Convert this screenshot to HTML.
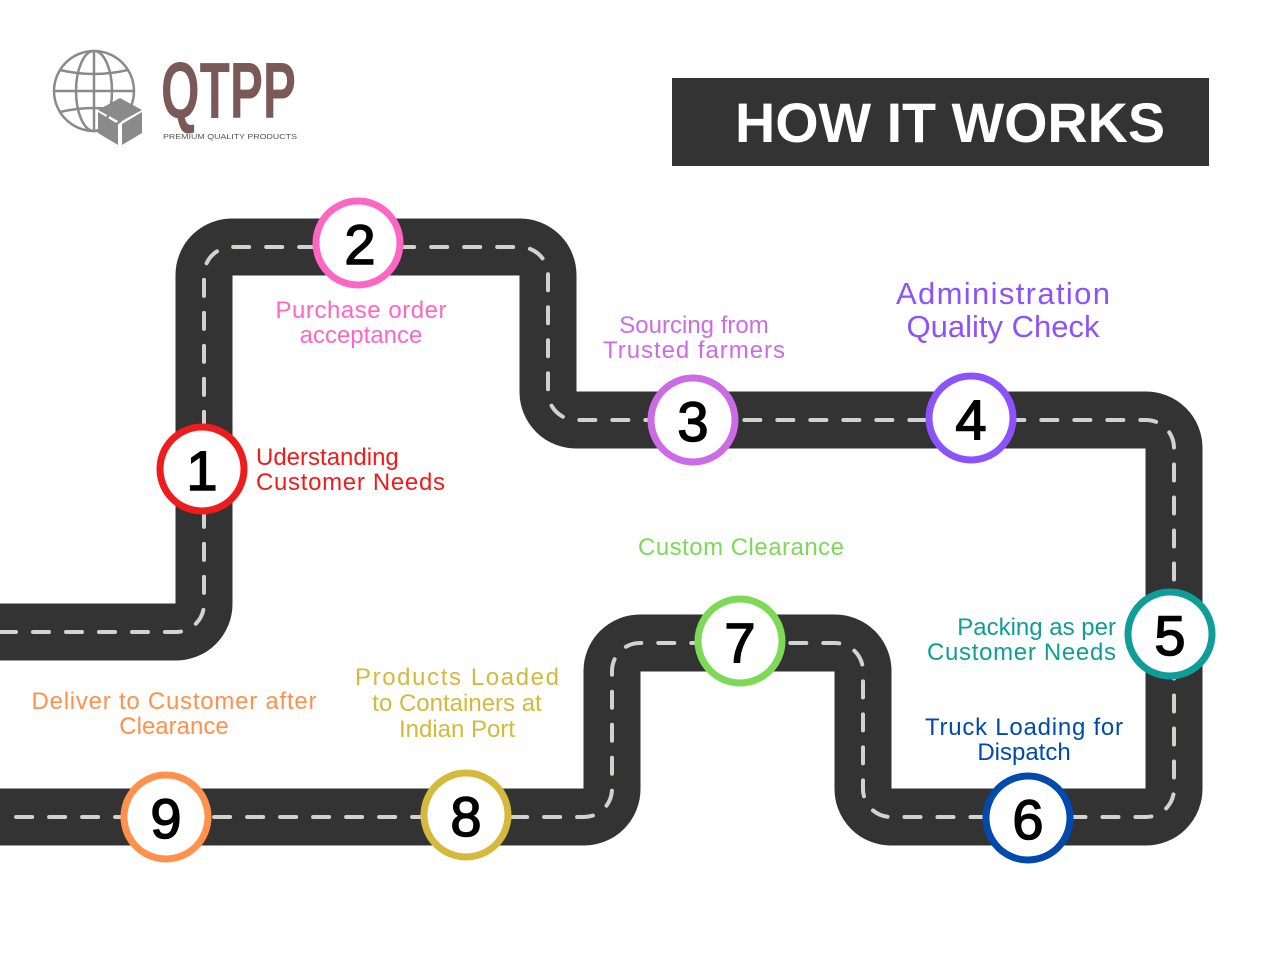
<!DOCTYPE html>
<html><head><meta charset="utf-8"><style>
body{margin:0;background:#fff;}
svg{display:block}
text{font-family:"Liberation Sans",sans-serif;}
</style></head><body>
<svg width="1280" height="960" viewBox="0 0 1280 960" xmlns="http://www.w3.org/2000/svg">
<rect width="1280" height="960" fill="#fff"/>
<g stroke="#8a8a8a" stroke-width="2.5" fill="none">
<circle cx="94" cy="91" r="40"/>
<ellipse cx="94" cy="91" rx="18" ry="40"/>
<line x1="94" y1="51" x2="94" y2="131"/>
<line x1="54" y1="91" x2="134" y2="91"/>
<path d="M60 70 Q94 78 128 70"/><path d="M60 112 Q94 104 128 112"/>
</g>
<polygon points="98,110 120,98 142,110 120,122" fill="#8a8a8a"/>
<polygon points="98,112 118,124 118,145 98,133" fill="#8a8a8a"/>
<polygon points="122,124 142,112 142,133 122,145" fill="#8a8a8a"/>
<text x="161" y="118" font-size="80" font-weight="bold" fill="#7a5a58" textLength="135" lengthAdjust="spacingAndGlyphs">QTPP</text>
<text x="163" y="139" font-size="7" fill="#555" textLength="134" lengthAdjust="spacingAndGlyphs">PREMIUM QUALITY PRODUCTS</text>
<rect x="672" y="78" width="537" height="88" fill="#333"/>
<text x="950" y="142" font-size="56" font-weight="bold" fill="#fff" text-anchor="middle" textLength="430" lengthAdjust="spacingAndGlyphs">HOW IT WORKS</text>
<path d="M0,632 H176 A28,28 0 0 0 204,604 V275 A28,28 0 0 1 232,247 H520 A28,28 0 0 1 548,275 V392 A28,28 0 0 0 576,420 H1146 A28,28 0 0 1 1174,448 V789 A28,28 0 0 1 1146,817 H891 A28,28 0 0 1 863,789 V671 A28,28 0 0 0 835,643 H640 A28,28 0 0 0 612,671 V789 A28,28 0 0 1 584,817 H0" fill="none" stroke="#333" stroke-width="57"/>
<path d="M0,632 H176 A28,28 0 0 0 204,604 V275 A28,28 0 0 1 232,247 H520 A28,28 0 0 1 548,275 V392 A28,28 0 0 0 576,420 H1146 A28,28 0 0 1 1174,448 V789 A28,28 0 0 1 1146,817 H891 A28,28 0 0 1 863,789 V671 A28,28 0 0 0 835,643 H640 A28,28 0 0 0 612,671 V789 A28,28 0 0 1 584,817 H0" fill="none" stroke="#d0d4cc" stroke-width="4" stroke-dasharray="16 17" stroke-linecap="round"/>
<g stroke-width="7" fill="#fff">
<circle cx="202" cy="469" r="42" stroke="#ee1c1c"/>
<circle cx="358" cy="243" r="42" stroke="#ff66c4"/>
<circle cx="693" cy="420" r="42" stroke="#cb6ce6"/>
<circle cx="971" cy="418" r="42" stroke="#8c52ff"/>
<circle cx="1170" cy="634" r="42" stroke="#0f9d9a"/>
<circle cx="1028" cy="818" r="42" stroke="#004aad"/>
<circle cx="740" cy="641" r="42" stroke="#7ed957"/>
<circle cx="466" cy="815" r="42" stroke="#d4b93c"/>
<circle cx="166" cy="817" r="42" stroke="#ff914d"/>
</g>
<g font-size="56" fill="#000" text-anchor="middle" stroke="#000" stroke-width="1.5">
<text x="202" y="490">1</text><text x="360" y="264">2</text><text x="693" y="441">3</text>
<text x="971" y="439">4</text><text x="1170" y="655">5</text><text x="1028" y="839">6</text>
<text x="740" y="662">7</text><text x="466" y="836">8</text><text x="166" y="838">9</text>
</g>
<g font-size="24">
<text x="361" y="318" fill="#ff66c4" text-anchor="middle" textLength="171">Purchase order</text>
<text x="361" y="343" fill="#ff66c4" text-anchor="middle">acceptance</text>
<text x="256" y="465" fill="#ee1c1c">Uderstanding</text>
<text x="256" y="490" fill="#ee1c1c" textLength="189">Customer Needs</text>
<text x="694" y="333" fill="#cb6ce6" text-anchor="middle">Sourcing from</text>
<text x="694" y="358" fill="#cb6ce6" text-anchor="middle" textLength="182">Trusted farmers</text>
<text x="1003" y="304" fill="#8c52ff" text-anchor="middle" font-size="31" textLength="214">Administration</text>
<text x="1003" y="337" fill="#8c52ff" text-anchor="middle" font-size="31">Quality Check</text>
<text x="741" y="555" fill="#7ed957" text-anchor="middle" textLength="206">Custom Clearance</text>
<text x="1116" y="635" fill="#0f9d9a" text-anchor="end">Packing as per</text>
<text x="1116" y="660" fill="#0f9d9a" text-anchor="end" textLength="189">Customer Needs</text>
<text x="1024" y="735" fill="#004aad" text-anchor="middle" textLength="198">Truck Loading for</text>
<text x="1024" y="760" fill="#004aad" text-anchor="middle">Dispatch</text>
<text x="457" y="685" fill="#d4b93c" text-anchor="middle" textLength="204">Products Loaded</text>
<text x="457" y="711" fill="#d4b93c" text-anchor="middle">to Containers at</text>
<text x="457" y="737" fill="#d4b93c" text-anchor="middle">Indian Port</text>
<text x="174" y="709" fill="#ff914d" text-anchor="middle" textLength="285">Deliver to Customer after</text>
<text x="174" y="734" fill="#ff914d" text-anchor="middle">Clearance</text>
</g>
</svg>
</body></html>
